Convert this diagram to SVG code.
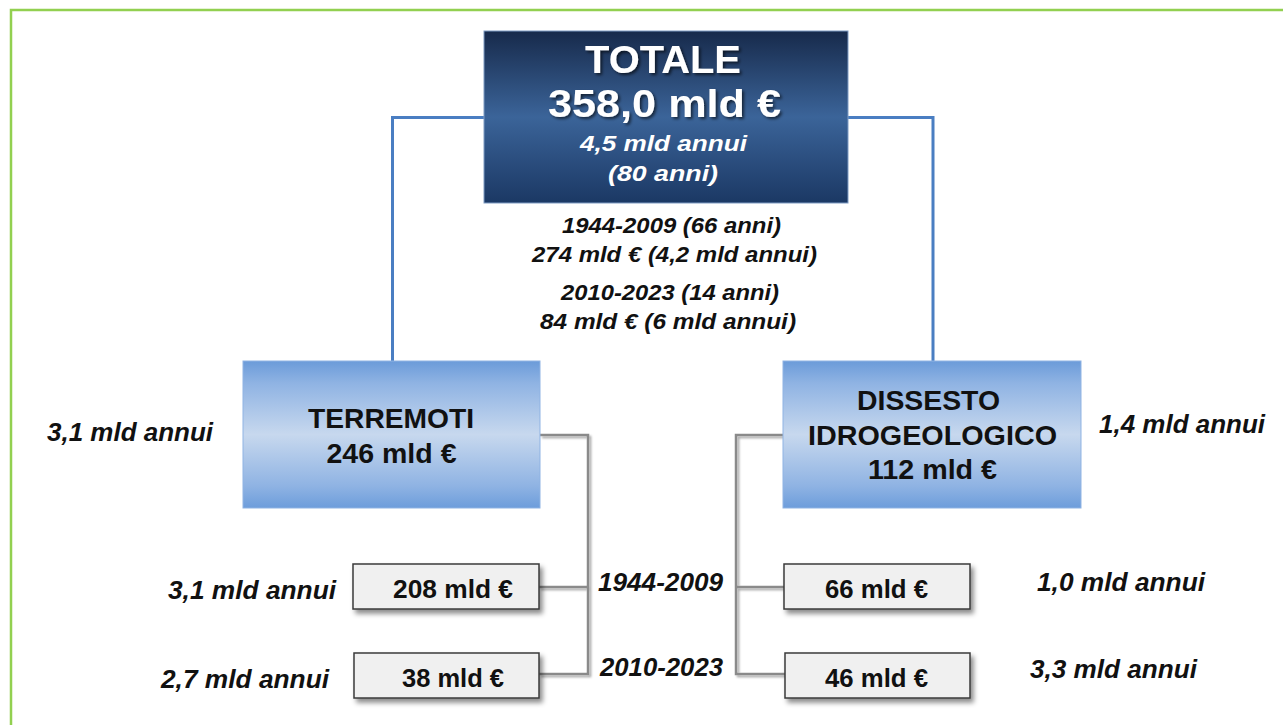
<svg xmlns="http://www.w3.org/2000/svg" width="1283" height="725" viewBox="0 0 1283 725">
<defs>
<linearGradient id="gTot" x1="0" y1="0" x2="0" y2="1">
<stop offset="0" stop-color="#172a4b"/>
<stop offset="0.5" stop-color="#3b6499"/>
<stop offset="1" stop-color="#1b3864"/>
</linearGradient>
<linearGradient id="gBlue" x1="0" y1="0" x2="0" y2="1">
<stop offset="0" stop-color="#6b9bd9"/>
<stop offset="0.15" stop-color="#8fb3e3"/>
<stop offset="0.5" stop-color="#c7d8ee"/>
<stop offset="0.85" stop-color="#8fb3e3"/>
<stop offset="1" stop-color="#6d9ddb"/>
</linearGradient>
<filter id="shadow" x="-10%" y="-20%" width="130%" height="160%">
<feDropShadow dx="3" dy="4" stdDeviation="2.5" flood-color="#000" flood-opacity="0.45"/>
</filter>
<filter id="tshadow" x="-10%" y="-20%" width="130%" height="160%">
<feDropShadow dx="2" dy="2" stdDeviation="1.5" flood-color="#000" flood-opacity="0.6"/>
</filter>
<filter id="lshadow" x="-10%" y="-10%" width="130%" height="130%">
<feDropShadow dx="2" dy="2" stdDeviation="1.2" flood-color="#000" flood-opacity="0.35"/>
</filter>
</defs>
<style>
text { font-family: "Liberation Sans", Arial, sans-serif; font-weight: bold; }
.w { fill: #ffffff; }
.k { fill: #111111; }
.it { font-style: italic; }
.big { font-size: 39px; }
.mid { font-size: 28px; }
.sm { font-size: 26px; }
.lbl { font-size: 25px; }
.sub { font-size: 22px; }
.small { fill: #f0f0f0; stroke: #3a3a3a; stroke-width: 1.5; }
.blue { fill: url(#gBlue); stroke: #8fb3e3; stroke-width: 1; }
.cb { fill: none; stroke: #4a7ec2; stroke-width: 3; }
.cg { fill: none; stroke: #8a8a8a; stroke-width: 2.5; }
</style>
<rect width="1283" height="725" fill="#ffffff"/>
<path d="M11 725 V10 H1283" fill="none" stroke="#92d050" stroke-width="2.5"/>

<g id="connectors">
<path class="cb" d="M484 117.5 H392.5 V361"/>
<path class="cb" d="M848 117.5 H933 V361"/>
<g filter="url(#lshadow)">
<path class="cg" d="M540 435 H588 V674 H539"/>
<path class="cg" d="M588 587 H539"/>
<path class="cg" d="M783 435 H736 V674 H785"/>
<path class="cg" d="M736 587 H784"/>
</g>
</g>

<g id="totale">
<rect x="484" y="31" width="364" height="172" fill="url(#gTot)" stroke="#7f9cc4" stroke-width="1"/>
<g filter="url(#tshadow)">
<text class="w big" x="663" y="73" text-anchor="middle" textLength="156" lengthAdjust="spacingAndGlyphs">TOTALE</text>
<text class="w big" x="664.5" y="117" text-anchor="middle" textLength="233" lengthAdjust="spacingAndGlyphs">358,0 mld €</text>
</g>
<text class="w it sub" x="663.5" y="151" text-anchor="middle" textLength="167" lengthAdjust="spacingAndGlyphs">4,5 mld annui</text>
<text class="w it sub" x="663" y="181" text-anchor="middle" textLength="110" lengthAdjust="spacingAndGlyphs">(80 anni)</text>
</g>

<g id="periodi">
<text class="k it sub" x="671.5" y="233" text-anchor="middle" textLength="219" lengthAdjust="spacingAndGlyphs">1944-2009 (66 anni)</text>
<text class="k it sub" x="674.5" y="262" text-anchor="middle" textLength="285" lengthAdjust="spacingAndGlyphs">274 mld € (4,2 mld annui)</text>
<text class="k it sub" x="670" y="300" text-anchor="middle" textLength="218" lengthAdjust="spacingAndGlyphs">2010-2023 (14 anni)</text>
<text class="k it sub" x="668" y="329" text-anchor="middle" textLength="256" lengthAdjust="spacingAndGlyphs">84 mld € (6 mld annui)</text>
</g>

<g id="terremoti">
<rect class="blue" x="243" y="361" width="297" height="147"/>
<text class="k mid" x="391" y="428" text-anchor="middle" textLength="166" lengthAdjust="spacingAndGlyphs">TERREMOTI</text>
<text class="k mid" x="391.5" y="463" text-anchor="middle" textLength="130" lengthAdjust="spacingAndGlyphs">246 mld €</text>
</g>

<g id="dissesto">
<rect class="blue" x="783" y="361" width="298" height="147"/>
<text class="k mid" x="928.5" y="410" text-anchor="middle" textLength="143" lengthAdjust="spacingAndGlyphs">DISSESTO</text>
<text class="k mid" x="932.5" y="445" text-anchor="middle" textLength="249" lengthAdjust="spacingAndGlyphs">IDROGEOLOGICO</text>
<text class="k mid" x="932.5" y="479" text-anchor="middle" textLength="129" lengthAdjust="spacingAndGlyphs">112 mld €</text>
</g>

<g id="terremoti-1944">
<rect class="small" x="353" y="564" width="186" height="45" filter="url(#shadow)"/>
<text class="k sm" x="453" y="598" text-anchor="middle" textLength="120" lengthAdjust="spacingAndGlyphs">208 mld €</text>
</g>
<g id="terremoti-2010">
<rect class="small" x="354" y="653" width="185" height="45" filter="url(#shadow)"/>
<text class="k sm" x="453" y="687" text-anchor="middle" textLength="102" lengthAdjust="spacingAndGlyphs">38 mld €</text>
</g>
<g id="dissesto-1944">
<rect class="small" x="784" y="564" width="186" height="45" filter="url(#shadow)"/>
<text class="k sm" x="876.5" y="598" text-anchor="middle" textLength="103" lengthAdjust="spacingAndGlyphs">66 mld €</text>
</g>
<g id="dissesto-2010">
<rect class="small" x="785" y="653" width="185" height="45" filter="url(#shadow)"/>
<text class="k sm" x="876.5" y="687" text-anchor="middle" textLength="103" lengthAdjust="spacingAndGlyphs">46 mld €</text>
</g>

<g id="labels">
<text class="k it lbl" x="660.5" y="591" text-anchor="middle" textLength="125" lengthAdjust="spacingAndGlyphs">1944-2009</text>
<text class="k it lbl" x="661.5" y="676" text-anchor="middle" textLength="123" lengthAdjust="spacingAndGlyphs">2010-2023</text>
<text class="k it lbl" x="130" y="441" text-anchor="middle" textLength="166" lengthAdjust="spacingAndGlyphs">3,1 mld annui</text>
<text class="k it lbl" x="1182" y="433" text-anchor="middle" textLength="166" lengthAdjust="spacingAndGlyphs">1,4 mld annui</text>
<text class="k it lbl" x="252" y="599" text-anchor="middle" textLength="168" lengthAdjust="spacingAndGlyphs">3,1 mld annui</text>
<text class="k it lbl" x="245" y="688" text-anchor="middle" textLength="168" lengthAdjust="spacingAndGlyphs">2,7 mld annui</text>
<text class="k it lbl" x="1121" y="591" text-anchor="middle" textLength="168" lengthAdjust="spacingAndGlyphs">1,0 mld annui</text>
<text class="k it lbl" x="1113.5" y="678" text-anchor="middle" textLength="167" lengthAdjust="spacingAndGlyphs">3,3 mld annui</text>
</g>
</svg>
